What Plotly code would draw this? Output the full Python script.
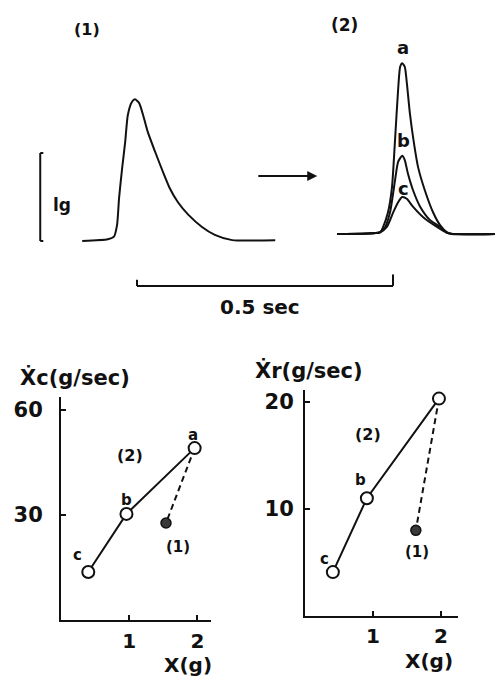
import plotly.graph_objects as go

# ---- top panel: force records (time in ms, force in g) ----
rec1_t = [-107, -57, -45, -39, -35, -29, -23, -18, -10, -4, 4, 12, 21, 35, 49, 64, 80, 100, 127, 152, 186, 270]
rec1_g = [0.00, 0.02, 0.05, 0.18, 0.49, 0.83, 1.13, 1.43, 1.58, 1.61, 1.57, 1.43, 1.24, 1.02, 0.81, 0.60, 0.44, 0.30, 0.16, 0.07, 0.01, 0.01]

rec_a_t = [391, 475, 480, 490, 498, 504, 510, 514, 518, 523, 527, 533, 541, 549, 562, 578, 592, 605, 615, 699]
rec_a_g = [0.08, 0.10, 0.15, 0.32, 0.61, 1.15, 1.72, 1.98, 2.02, 1.98, 1.80, 1.45, 1.11, 0.84, 0.58, 0.33, 0.18, 0.10, 0.08, 0.08]
rec_b_t = [391, 475, 484, 494, 504, 510, 518, 523, 529, 539, 553, 572, 592, 607, 699]
rec_b_g = [0.08, 0.10, 0.15, 0.32, 0.69, 0.90, 0.97, 0.92, 0.77, 0.58, 0.39, 0.24, 0.16, 0.09, 0.08]
rec_c_t = [391, 475, 488, 500, 510, 518, 527, 539, 559, 586, 607, 699]
rec_c_g = [0.08, 0.10, 0.16, 0.32, 0.44, 0.50, 0.48, 0.39, 0.27, 0.16, 0.09, 0.08]

# ---- bottom panels ----
labels2 = ["c", "b", "a"]
xc_x2 = [0.40, 0.96, 1.96]
xc_y2 = [13.7, 30.3, 49.1]
xc_x1 = [1.54]
xc_y1 = [27.7]

xr_x2 = [0.41, 0.91, 1.97]
xr_y2 = [4.1, 11.0, 20.3]
xr_x1 = [1.63]
xr_y1 = [8.0]

xc_ticks = [30, 60]
xr_ticks = [10, 20]
x_ticks = [1, 2]

INK = "#111111"
FONT = "DejaVu Sans"

fig = go.Figure()

for t, g in [(rec1_t, rec1_g), (rec_a_t, rec_a_g), (rec_b_t, rec_b_g), (rec_c_t, rec_c_g)]:
    fig.add_trace(go.Scatter(x=t, y=g, mode="lines", line=dict(color=INK, width=2, shape="spline", smoothing=0.6),
                             xaxis="x", yaxis="y", hoverinfo="skip"))

def add_panel(xa, ya, x2, y2, x1, y1):
    fig.add_trace(go.Scatter(x=[x2[-1], x1[0]], y=[y2[-1], y1[0]], mode="lines",
                             line=dict(color=INK, width=2, dash="6px,4px"), xaxis=xa, yaxis=ya))
    fig.add_trace(go.Scatter(x=x2, y=y2, mode="lines+markers", line=dict(color=INK, width=2),
                             marker=dict(symbol="circle", size=12, color="white", line=dict(color=INK, width=2)),
                             xaxis=xa, yaxis=ya, cliponaxis=False))
    fig.add_trace(go.Scatter(x=x1, y=y1, mode="markers",
                             marker=dict(symbol="circle", size=10, color="#3a3a3a", line=dict(color=INK, width=1.5)),
                             xaxis=xa, yaxis=ya, cliponaxis=False))

add_panel("x2", "y2", xc_x2, xc_y2, xc_x1, xc_y1)
add_panel("x3", "y3", xr_x2, xr_y2, xr_x1, xr_y1)

axis_common = dict(showline=True, linecolor=INK, linewidth=2, ticks="inside", ticklen=5, tickwidth=2,
                   tickcolor=INK, showgrid=False, zeroline=False, automargin=False)
yfont = dict(family=FONT, size=21, color=INK, weight="bold")
xfont = dict(family=FONT, size=20, color=INK, weight="bold")

fig.update_layout(
    width=496, height=677, margin=dict(l=0, r=0, t=0, b=0),
    paper_bgcolor="white", plot_bgcolor="white", showlegend=False,
    xaxis=dict(domain=[0, 1], range=[-267.6, 701.2], visible=False, anchor="y"),
    yaxis=dict(domain=[0.5126, 1], range=[-1.011, 2.739], visible=False, anchor="x"),
    xaxis2=dict(domain=[0.1230, 0.4254], range=[0, 2.2], anchor="y2", tickvals=x_ticks,
                ticktext=[str(v) for v in x_ticks], ticklabelstandoff=2, tickfont=xfont, **axis_common),
    yaxis2=dict(domain=[0.0842, 0.4136], range=[0, 63.7], anchor="x2", tickvals=xc_ticks,
                ticktext=[str(v) for v in xc_ticks], ticklabelstandoff=12, tickfont=yfont, **axis_common),
    xaxis3=dict(domain=[0.6149, 0.9234], range=[0, 2.25], anchor="y3", tickvals=x_ticks,
                ticktext=[str(v) for v in x_ticks], ticklabelstandoff=1, tickfont=xfont, **axis_common),
    yaxis3=dict(domain=[0.0901, 0.4239], range=[0, 21.1], anchor="x3", tickvals=xr_ticks,
                ticktext=[str(v) for v in xr_ticks], ticklabelstandoff=5, tickfont=yfont, **axis_common),
)

# scale bars
shp = dict(type="line", xref="x", yref="y", line=dict(color=INK, width=2))
fig.add_shape(x0=-189, x1=-189, y0=0, y1=1.0, **shp)
fig.add_shape(x0=-189, x1=-183, y0=1.0, y1=1.0, **shp)
fig.add_shape(x0=-189, x1=-183, y0=0, y1=0, **shp)
fig.add_shape(x0=0, x1=500, y0=-0.51, y1=-0.51, **shp)
fig.add_shape(x0=0, x1=0, y0=-0.51, y1=-0.44, **shp)
fig.add_shape(x0=500, x1=500, y0=-0.51, y1=-0.38, **shp)

# arrow
fig.add_annotation(x=352, y=0.74, ax=234, ay=0.74, xref="x", yref="y", axref="x", ayref="y",
                   showarrow=True, arrowhead=2, arrowsize=1, arrowwidth=2, arrowcolor=INK, text="")

def txt(x, y, s, size, xref="x", yref="y"):
    fig.add_annotation(x=x, y=y, xref=xref, yref=yref, text=s, showarrow=False,
                       font=dict(family=FONT, size=size, color=INK, weight="bold"),
                       xanchor="center", yanchor="middle")

# top texts
txt(-98, 2.40, "(1)", 16)
txt(406, 2.45, "(2)", 17)
txt(520, 2.20, "a", 18)
txt(520, 1.14, "b", 18)
txt(520, 0.60, "c", 18)
txt(-146, 0.41, "lg", 17)
txt(240, -0.75, "0.5 sec", 20)

# bottom-left texts
for s, x, y in zip(labels2, [0.24, 0.96, 1.94], [18.6, 34.3, 52.9]):
    txt(x, y, s, 15, "x2", "y2")
txt(1.01, 47.1, "(2)", 16, "x2", "y2")
txt(1.71, 20.9, "(1)", 15, "x2", "y2")

# bottom-right texts
for s, x, y in zip(labels2, [0.28, 0.81, 1.96], [5.3, 12.7, 22.1]):
    txt(x, y, s, 15, "x3", "y3")
txt(0.93, 16.9, "(2)", 16, "x3", "y3")
txt(1.65, 6.0, "(1)", 15, "x3", "y3")

# axis titles
txt(0.151, 1 - 377 / 677, "Ẋc(g/sec)", 21, "paper", "paper")
txt(0.623, 1 - 370 / 677, "Ẋr(g/sec)", 21, "paper", "paper")
txt(0.379, 1 - 665 / 677, "X(g)", 20, "paper", "paper")
txt(0.865, 1 - 661 / 677, "X(g)", 20, "paper", "paper")

fig.write_html("out.html", config={"displayModeBar": False},
               post_script="document.body.style.margin='0';document.body.style.overflow='hidden';")
